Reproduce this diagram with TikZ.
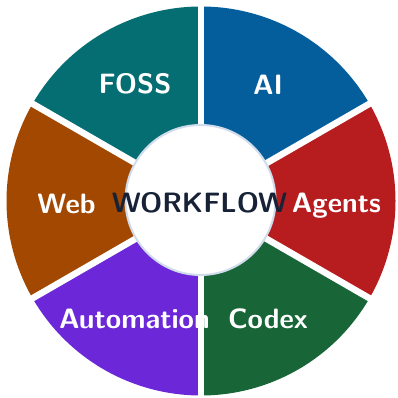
\documentclass[tikz,border=0pt]{standalone}
\usetikzlibrary{calc}
\definecolor{cfoss}{HTML}{046E72}
\definecolor{cai}{HTML}{045E9C}
\definecolor{cagents}{HTML}{B71C1F}
\definecolor{ccodex}{HTML}{186637}
\definecolor{cauto}{HTML}{6C28D8}
\definecolor{cweb}{HTML}{A24800}
\definecolor{cwf}{HTML}{172236}
\definecolor{cring}{HTML}{D0DCEB}
\begin{document}
\begin{tikzpicture}[x=1pt,y=1pt,
  lbl/.style={anchor=base,text=white,inner sep=0pt,font=\sffamily\bfseries\fontsize{28}{34}\selectfont},
  gapline/.style={draw=white,line width=6.5pt}]
\useasboundingbox (0,0) rectangle (397,398);
\coordinate (c) at (201,197);
\def\R{194.5}
\fill[cai]     (c) -- ++(30:\R) arc[start angle=30,end angle=90,radius=\R] -- cycle;
\fill[cfoss]   (c) -- ++(90:\R) arc[start angle=90,end angle=150,radius=\R] -- cycle;
\fill[cweb]    (c) -- ++(150:\R) arc[start angle=150,end angle=210,radius=\R] -- cycle;
\fill[cauto]   (c) -- ++(210:\R) arc[start angle=210,end angle=270,radius=\R] -- cycle;
\fill[ccodex]  (c) -- ++(270:\R) arc[start angle=270,end angle=330,radius=\R] -- cycle;
\fill[cagents] (c) -- ++(330:\R) arc[start angle=330,end angle=390,radius=\R] -- cycle;
\foreach \a [count=\i] in {30,90,150,210,270,330}{
  \coordinate (g\i) at ($(c)+(\a:200)$);
  \draw[gapline] (c) -- (g\i);
}
\node[circle,fill=white,draw=cring,line width=2pt,minimum size=150pt,inner sep=0pt] (hub) at (200.5,198) {};
\node[lbl] (foss) at (135,304.5) {FOSS};
\node[lbl] (ai) at (268,303) {AI};
\node[lbl] (agents) at (336.5,185) {Agents};
\node[lbl] (codex) at (268,69) {Codex};
\node[lbl] (auto) at (134.5,69) {Automation};
\node[lbl] (web) at (66.5,184) {Web};
\node[lbl,text=cwf] (wf) at (199.5,185.3) {WORKFLOW};
\end{tikzpicture}
\end{document}
